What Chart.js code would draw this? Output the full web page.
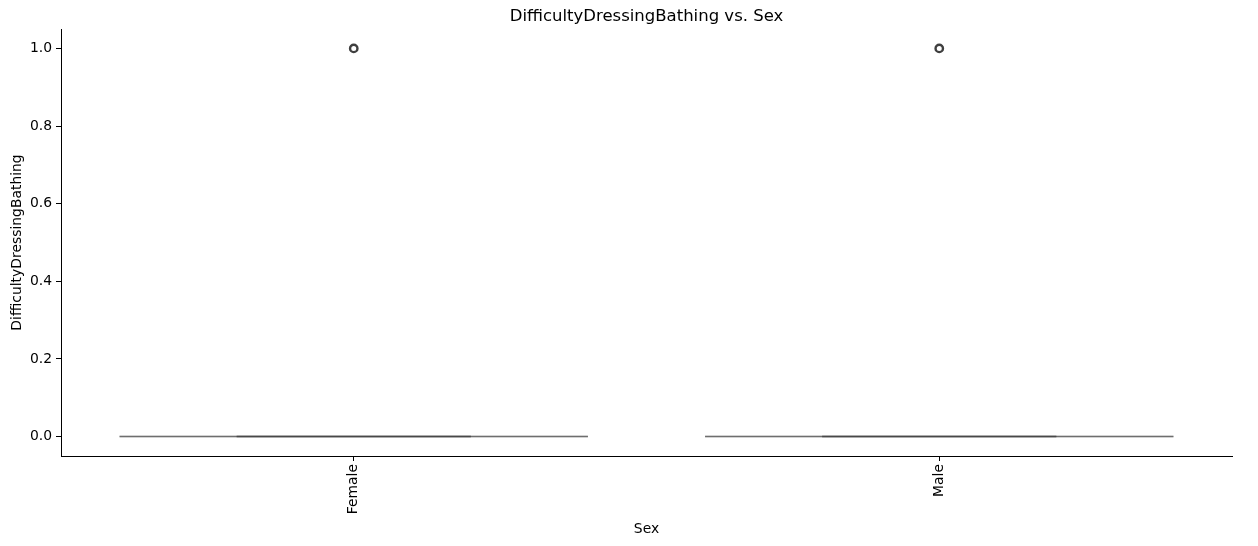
<!DOCTYPE html>
<html><head><meta charset="utf-8">
<script src="https://cdn.jsdelivr.net/npm/chart.js@4"></script>
<style>html,body{margin:0;padding:0;background:#fff}#wrap{width:1258px;height:546px}</style>
</head><body><div id="wrap"><canvas id="c" width="1258" height="546"></canvas></div>
<script>
const categories = ['Female', 'Male'];
const q1 = [0, 0];
const median = [0, 0];
const q3 = [0, 0];
const whiskerLow = [0, 0];
const whiskerHigh = [0, 0];
const outliers = [[1], [1]];
const yTicks = [0, 0.2, 0.4, 0.6, 0.8, 1.0];
const titleText = 'DifficultyDressingBathing vs. Sex';
const xTitle = 'Sex';
const yTitle = 'DifficultyDressingBathing';

const BOX_W = 0.8, CAP_W = 0.4;
const FONT = "'DejaVu Sans', sans-serif";
const edge = '#3f3f3f';

const datasets = [];
categories.forEach((c, i) => {
  const seg = (pts, color, w) => datasets.push({
    type: 'scatter', data: pts, showLine: true, borderColor: color, borderWidth: w,
    pointRadius: 0, fill: false, order: 2
  });
  // box outline
  seg([{x: i - BOX_W/2, y: q1[i]}, {x: i + BOX_W/2, y: q1[i]}, {x: i + BOX_W/2, y: q3[i]}, {x: i - BOX_W/2, y: q3[i]}, {x: i - BOX_W/2, y: q1[i]}], 'rgba(63,63,63,0.62)', 1.5);
  // whiskers
  seg([{x: i, y: q1[i]}, {x: i, y: whiskerLow[i]}], edge, 1.5);
  seg([{x: i, y: q3[i]}, {x: i, y: whiskerHigh[i]}], edge, 1.5);
  // caps
  seg([{x: i - CAP_W/2, y: whiskerLow[i]}, {x: i + CAP_W/2, y: whiskerLow[i]}], 'rgba(63,63,63,0.55)', 1.5);
  seg([{x: i - CAP_W/2, y: whiskerHigh[i]}, {x: i + CAP_W/2, y: whiskerHigh[i]}], 'rgba(63,63,63,0.55)', 1.5);
  // median
  seg([{x: i - BOX_W/2, y: median[i]}, {x: i + BOX_W/2, y: median[i]}], 'rgba(63,63,63,0.35)', 1.5);
  // outliers
  datasets.push({
    type: 'scatter', data: outliers[i].map(v => ({x: i, y: v})),
    pointStyle: 'circle', pointRadius: 3.7, pointBorderWidth: 2.4,
    pointBorderColor: edge, pointBackgroundColor: 'rgba(255,255,255,0)', order: 1
  });
});

const titlePlugin = {
  id: 'topTitle',
  afterDraw(chart) {
    const ctx = chart.ctx, a = chart.chartArea;
    ctx.save();
    ctx.font = `16.5px ${FONT}`;
    ctx.fillStyle = '#000';
    ctx.textAlign = 'center';
    ctx.textBaseline = 'middle';
    ctx.fillText(titleText, (a.left + a.right) / 2, 17);
    ctx.restore();
  }
};

new Chart(document.getElementById('c'), {
  type: 'scatter',
  data: { datasets },
  plugins: [titlePlugin],
  options: {
    responsive: false, animation: false,
    layout: { padding: { top: 29, right: 26, left: 0, bottom: 0 } },
    plugins: { legend: { display: false }, tooltip: { enabled: false }, title: { display: false } },
    scales: {
      x: {
        type: 'linear', min: -0.5, max: 1.5,
        afterBuildTicks: s => { s.ticks = categories.map((c, i) => ({ value: i })); },
        afterFit: s => { s.height = 90; },
        ticks: {
          callback: v => categories[v], color: '#000', padding: 3,
          minRotation: 90, maxRotation: 90, autoSkip: false,
          font: { family: FONT, size: 13.9 }
        },
        grid: { drawOnChartArea: false, drawTicks: true, tickLength: 5, tickColor: '#000', tickWidth: 1 },
        border: { display: true, color: '#000', width: 1 },
        title: { display: true, text: xTitle, color: '#000', font: { family: FONT, size: 13.9 }, padding: { top: 0, bottom: 8 } }
      },
      y: {
        type: 'linear', min: -0.05, max: 1.05,
        afterBuildTicks: s => { s.ticks = yTicks.map(v => ({ value: v })); },
        afterFit: s => { s.width = 61; },
        ticks: {
          callback: v => Number(v).toFixed(1), color: '#000', padding: 4,
          font: { family: FONT, size: 13.9 }
        },
        grid: { drawOnChartArea: false, drawTicks: true, tickLength: 5, tickColor: '#000', tickWidth: 1 },
        border: { display: true, color: '#000', width: 1 },
        title: { display: true, text: yTitle, color: '#000', font: { family: FONT, size: 13.9 }, padding: { top: 9, bottom: 0 } }
      }
    }
  }
});
</script>
</body></html>
